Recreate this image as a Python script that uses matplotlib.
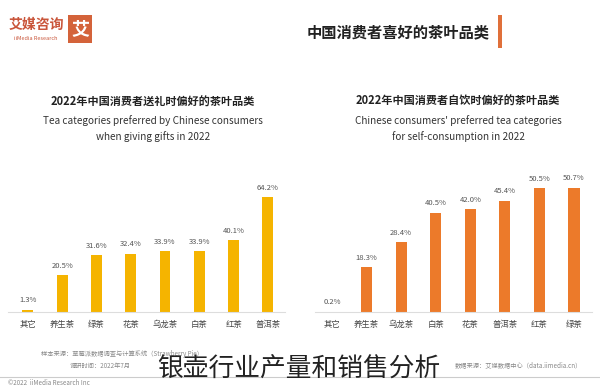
import matplotlib.pyplot as plt
from matplotlib.patches import Rectangle
from matplotlib.lines import Line2D

plt.rcParams['font.family'] = ['Noto Sans CJK SC', 'DejaVu Sans']

gift_categories = ['其它', '养生茶', '绿茶', '花茶', '乌龙茶', '白茶', '红茶', '普洱茶']
gift_values = [1.3, 20.5, 31.6, 32.4, 33.9, 33.9, 40.1, 64.2]

self_categories = ['其它', '养生茶', '乌龙茶', '白茶', '花茶', '普洱茶', '红茶', '绿茶']
self_values = [0.2, 18.3, 28.4, 40.5, 42.0, 45.4, 50.5, 50.7]

W, H = 600, 390


def fx(px):
    return px / W


def fy(py):
    return 1 - py / H


fig = plt.figure(figsize=(6, 3.9), dpi=100)
fig.patch.set_facecolor('white')


def bar_panel(rect, cats, vals, color, ytop, xlim):
    ax = fig.add_axes(rect)
    x = range(len(cats))
    ax.bar(x, vals, width=0.32, color=color)
    for xi, v in zip(x, vals):
        ax.annotate(f'{v:.1f}%', (xi, v), xytext=(0, 4), textcoords='offset points',
                    ha='center', va='bottom', fontsize=5.5, color='#555555')
    ax.set_xticks(list(x))
    ax.set_xticklabels(cats, fontsize=6, color='#444444')
    ax.tick_params(axis='x', length=0, pad=6)
    ax.set_yticks([])
    ax.set_ylim(0, ytop)
    ax.set_xlim(*xlim)
    for s in ['top', 'right', 'left']:
        ax.spines[s].set_visible(False)
    ax.spines['bottom'].set_color('#dddddd')
    ax.spines['bottom'].set_linewidth(0.8)
    ax.patch.set_alpha(0)
    return ax


bar_panel([fx(8), fy(312), fx(277), 142 / H], gift_categories, gift_values,
          '#F5B400', 142 / 1.79, (-0.58, 7.5))
bar_panel([fx(315), fy(312), fx(277), 142 / H], self_categories, self_values,
          '#EC7A2A', 142 / 2.45, (-0.49, 7.52))

# header: logo and title
fig.patches.append(Rectangle((fx(68), fy(43)), fx(24), 28 / H, transform=fig.transFigure,
                             facecolor='#D4633A', edgecolor='none'))
fig.text(fx(80), fy(29), '艾', color='white', fontsize=13, fontweight='bold',
         ha='center', va='center')
fig.text(fx(36), fy(25), '艾媒咨询', color='#C9553A', fontsize=10, fontweight='bold',
         ha='center', va='center')
fig.text(fx(36), fy(38), 'iiMedia Research', color='#C9553A', fontsize=4,
         ha='center', va='center')
fig.text(fx(490), fy(32), '中国消费者喜好的茶叶品类', color='#222222', fontsize=11,
         fontweight='bold', ha='right', va='center')
fig.patches.append(Rectangle((fx(498), fy(48)), fx(4), 33 / H, transform=fig.transFigure,
                             facecolor='#E0703A', edgecolor='none'))

# panel titles
fig.text(fx(153), fy(102), '2022年中国消费者送礼时偏好的茶叶品类', fontsize=8,
         fontweight='bold', color='#222222', ha='center', va='center')
fig.text(fx(153), fy(121), 'Tea categories preferred by Chinese consumers', fontsize=7.2,
         color='#333333', ha='center', va='center')
fig.text(fx(153), fy(137), 'when giving gifts in 2022', fontsize=7.2,
         color='#333333', ha='center', va='center')

fig.text(fx(458), fy(101), '2022年中国消费者自饮时偏好的茶叶品类', fontsize=8,
         fontweight='bold', color='#222222', ha='center', va='center')
fig.text(fx(458), fy(121), "Chinese consumers' preferred tea categories", fontsize=7.2,
         color='#333333', ha='center', va='center')
fig.text(fx(458), fy(137), 'for self-consumption in 2022', fontsize=7.2,
         color='#333333', ha='center', va='center')

# sources and footer
fig.text(fx(122), fy(354), '样本来源：草莓派数据调查与计算系统（Strawberry Pie）', fontsize=4.5,
         color='#888888', ha='center', va='center')
fig.text(fx(100), fy(366), '调研时间：2022年7月', fontsize=4.5,
         color='#888888', ha='center', va='center')
fig.text(fx(582), fy(365), '数据来源：艾媒数据中心（data.iimedia.cn）', fontsize=4.5,
         color='#888888', ha='right', va='center')
fig.lines.append(Line2D([0, 1], [fy(377), fy(377)], transform=fig.transFigure,
                        color='#cccccc', linewidth=0.8))
fig.text(fx(8), fy(383), '©2022  iiMedia Research Inc', fontsize=4.5,
         color='#888888', ha='left', va='center')

fig.text(fx(299), fy(370), '银壶行业产量和销售分析', fontsize=18.5, color='#222222',
         ha='center', va='center')

fig.savefig('out.png', dpi=100)
